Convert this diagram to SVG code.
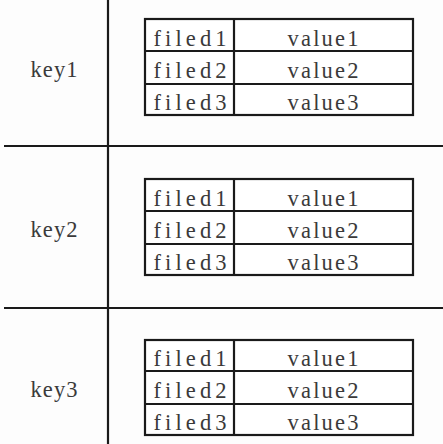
<svg xmlns="http://www.w3.org/2000/svg" width="443" height="444" viewBox="0 0 443 444">
<style>
.ln{stroke:#1a1a1a;stroke-width:2.2;fill:none}
.tb{stroke:#1a1a1a;stroke-width:2.2;fill:#fff}
.t{font-family:"Liberation Serif","DejaVu Serif",serif;font-size:22.5px;fill:#3a3a3a;text-anchor:middle}
</style>
<rect width="443" height="444" fill="#fdfdfd"/>
<g id="connectors">
<line class="ln" x1="108" y1="0" x2="108" y2="444"/>
<line class="ln" x1="4" y1="146" x2="443" y2="146"/>
<line class="ln" x1="4" y1="308" x2="443" y2="308"/>
</g>
<g id="key1"><text class="t" x="54" y="77" textLength="47" lengthAdjust="spacing">key1</text></g>
<g id="key2"><text class="t" x="54" y="237" textLength="47" lengthAdjust="spacing">key2</text></g>
<g id="key3"><text class="t" x="54" y="397" textLength="47" lengthAdjust="spacing">key3</text></g>
<g id="hash1">
<rect class="tb" x="145" y="19" width="268" height="96"/>
<line class="ln" x1="145" y1="51" x2="413" y2="51"/>
<line class="ln" x1="145" y1="84" x2="413" y2="84"/>
<line class="ln" x1="234" y1="19" x2="234" y2="115"/>
<text class="t" x="190" y="46" textLength="73" lengthAdjust="spacing">filed1</text><text class="t" x="323" y="46" textLength="71" lengthAdjust="spacing">value1</text>
<text class="t" x="190" y="78" textLength="73" lengthAdjust="spacing">filed2</text><text class="t" x="323" y="78" textLength="71" lengthAdjust="spacing">value2</text>
<text class="t" x="190" y="110" textLength="73" lengthAdjust="spacing">filed3</text><text class="t" x="323" y="110" textLength="71" lengthAdjust="spacing">value3</text>
</g>
<g id="hash2">
<rect class="tb" x="145" y="179" width="268" height="96"/>
<line class="ln" x1="145" y1="211" x2="413" y2="211"/>
<line class="ln" x1="145" y1="244" x2="413" y2="244"/>
<line class="ln" x1="234" y1="179" x2="234" y2="275"/>
<text class="t" x="190" y="206" textLength="73" lengthAdjust="spacing">filed1</text><text class="t" x="323" y="206" textLength="71" lengthAdjust="spacing">value1</text>
<text class="t" x="190" y="238" textLength="73" lengthAdjust="spacing">filed2</text><text class="t" x="323" y="238" textLength="71" lengthAdjust="spacing">value2</text>
<text class="t" x="190" y="270" textLength="73" lengthAdjust="spacing">filed3</text><text class="t" x="323" y="270" textLength="71" lengthAdjust="spacing">value3</text>
</g>
<g id="hash3">
<rect class="tb" x="145" y="340" width="268" height="95"/>
<line class="ln" x1="145" y1="371" x2="413" y2="371"/>
<line class="ln" x1="145" y1="404" x2="413" y2="404"/>
<line class="ln" x1="234" y1="340" x2="234" y2="435"/>
<text class="t" x="190" y="366" textLength="73" lengthAdjust="spacing">filed1</text><text class="t" x="323" y="366" textLength="71" lengthAdjust="spacing">value1</text>
<text class="t" x="190" y="398" textLength="73" lengthAdjust="spacing">filed2</text><text class="t" x="323" y="398" textLength="71" lengthAdjust="spacing">value2</text>
<text class="t" x="190" y="430" textLength="73" lengthAdjust="spacing">filed3</text><text class="t" x="323" y="430" textLength="71" lengthAdjust="spacing">value3</text>
</g>
</svg>
